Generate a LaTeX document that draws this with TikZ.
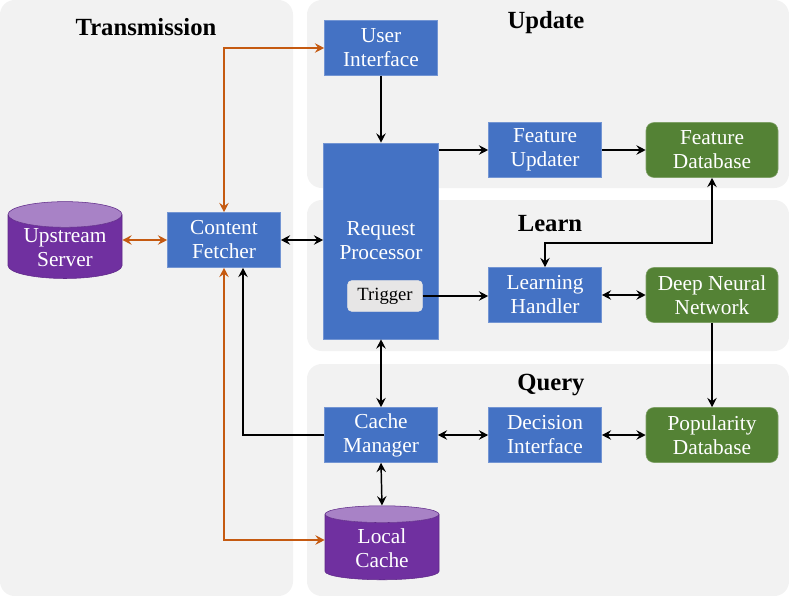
\documentclass[tikz,border=0pt]{standalone}
\usepackage{fontspec}
\setmainfont{Liberation Serif}
\newfontfamily\diagfont{Liberation Serif}
\usetikzlibrary{arrows.meta,shapes.geometric}
\definecolor{panelgray}{HTML}{F2F2F2}
\definecolor{modblue}{HTML}{4472C4}
\definecolor{dbgreen}{HTML}{548235}
\definecolor{storepurple}{HTML}{7030A0}
\definecolor{storetop}{HTML}{A882C6}
\definecolor{fetchorange}{HTML}{C55A11}
\definecolor{trigbg}{HTML}{E7E6E6}
\tikzset{
  module/.style={fill=modblue, draw=modblue!75!white, text=white, align=center,
    minimum width=84.75pt, minimum height=41.25pt, inner sep=1pt,
    font=\diagfont\fontsize{16}{18}\selectfont},
  dbase/.style={module, fill=dbgreen, draw=dbgreen!75!white, rounded corners=6pt,
    minimum width=99pt},
  store/.style={cylinder, shape border rotate=90, aspect=0.3,
    cylinder uses custom fill, cylinder body fill=storepurple,
    cylinder end fill=storetop, draw=storepurple!85!black, text=white,
    align=center, minimum width=85.5pt, minimum height=55.5pt, inner sep=1pt,
    font=\diagfont\fontsize{16}{18}\selectfont},
  trigbox/.style={fill=trigbg, draw=trigbg, rounded corners=3pt, text=black,
    minimum width=56pt, minimum height=23pt, inner sep=1pt,
    font=\diagfont\fontsize{14}{16}\selectfont},
  title/.style={font=\diagfont\fontsize{18.5}{22}\selectfont\bfseries},
  panel/.style={fill=panelgray, rounded corners=11pt},
  flow/.style={-{Stealth[length=7pt,width=7pt,inset=2.5pt]}, line width=1.1pt},
  dflow/.style={{Stealth[length=7pt,width=7pt,inset=2.5pt]}-{Stealth[length=7pt,width=7pt,inset=2.5pt]}, line width=1.1pt},
  fetch/.style={dflow, fetchorange}
}

\begin{document}
\begin{tikzpicture}[x=0.75pt, y=-0.75pt]
  \useasboundingbox (0,0) rectangle (789,596);
  % panels
  \fill[panel] (0,0) rectangle (293,596);
  \fill[panel] (307,0) rectangle (789,188);
  \fill[panel] (307,200) rectangle (789,351);
  \fill[panel] (307,364) rectangle (789,596);
  \node[title] (ttrans) at (146,27) {Transmission};
  \node[title] (tupd) at (546,23) {Update};
  \node[title] (tlearn) at (550,224) {Learn};
  \node[title] (tquery) at (551,385) {Query};

  % modules
  \node[module] (UI) at (381,48) {User\\Interface};
  \node[module, minimum width=86.25pt, minimum height=147pt] (RP) at (381,241) {Request\\Processor};
  \node[trigbox] (Trig) at (385,296) {Trigger};
  \node[module] (FU) at (545,150) {Feature\\Updater};
  \node[dbase] (FDB) at (712,150) {Feature\\Database};
  \node[module] (LH) at (545,295) {Learning\\Handler};
  \node[dbase] (DNN) at (712,295) {Deep Neural\\Network};
  \node[module] (CF) at (224,240) {Content\\Fetcher};
  \node[store] (US) at (65,248) {Upstream\\Server};
  \node[module] (CM) at (381,435) {Cache\\Manager};
  \node[store] (LC) at (382,548) {Local\\Cache};
  \node[module] (DI) at (545,435) {Decision\\Interface};
  \node[dbase] (PDB) at (712,435) {Popularity\\Database};

  % fetching paths
  \draw[fetch] (US.east |- CF.west) -- (CF.west);
  \draw[fetch] (CF.north) |- (UI.west);
  \draw[fetch] (CF.south) |- ([yshift=6pt]LC.west);

  % control paths
  \draw[dflow] (CF.east) -- (CF.east -| RP.west);
  \draw[flow] (UI.south) -- (RP.north);
  \draw[flow] (FU.west -| RP.east) -- (FU.west);
  \draw[flow] (FU.east) -- (FDB.west);
  \draw[dflow] (FDB.south) -- ++(0,65) -| (LH.north);
  \draw[flow] (Trig.east) -- (Trig.east -| LH.west);
  \draw[dflow] (LH.east) -- (DNN.west);
  \draw[flow] (DNN.south) -- (PDB.north);
  \draw[dflow] (RP.south) -- (CM.north);
  \draw[dflow] (CM.east) -- (DI.west);
  \draw[dflow] (DI.east) -- (PDB.west);
  \draw[dflow] (CM.south) -- (LC.north);
  \draw[flow] (CM.west) -| ([xshift=14.25pt]CF.south);
\end{tikzpicture}
\end{document}
